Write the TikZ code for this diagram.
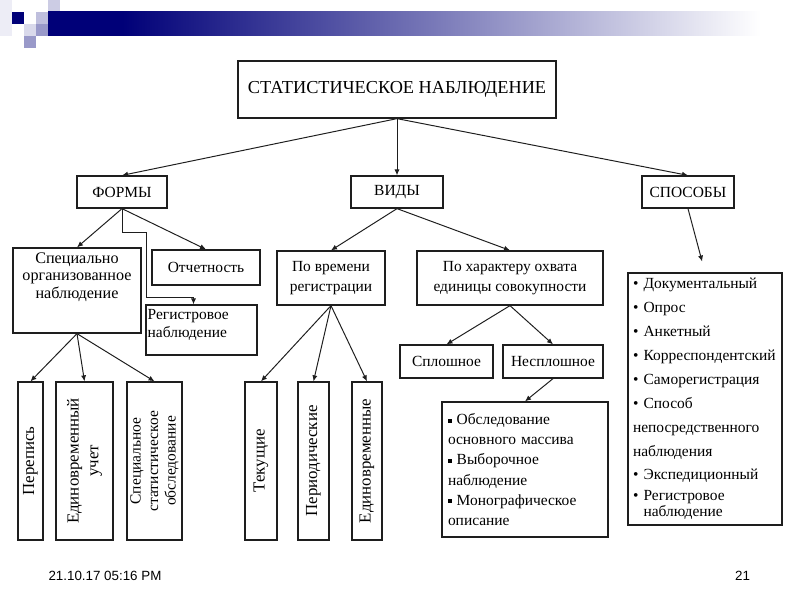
\documentclass[tikz,border=0pt]{standalone}
\usepackage{fontspec}
\setmainfont{Liberation Serif}
\setsansfont{Liberation Sans}
\usepackage{tikz}
\usetikzlibrary{positioning,arrows.meta}
\definecolor{snNavy}{RGB}{0,0,120}
\definecolor{snLine}{RGB}{30,30,30}
\pgfdeclarehorizontalshading{snBanner}{100bp}{color(0bp)=(snNavy); color(30bp)=(snNavy); color(50bp)=(snNavy!55); color(73bp)=(white); color(100bp)=(white)}
\newcommand{\sqbul}{\rule[0.3ex]{0.5ex}{0.5ex}}

\begin{document}
\begin{tikzpicture}[
  box/.style={draw=snLine, line width=0.9pt, fill=white, align=center,
              font=\fontsize{11}{14}\selectfont, inner sep=2pt},
  head/.style={box, minimum width=2.3cm, minimum height=0.8cm},
  rot/.style={box, rotate=90, minimum width=3.95cm,
              font=\fontsize{12}{14}\selectfont},
  txt/.style={inner sep=0pt, align=left, font=\fontsize{11}{12.5}\selectfont},
  arr/.style={-{Latex[length=1.5mm,width=1.3mm]}, line width=0.7pt, snLine}
]
\useasboundingbox (0,0) rectangle (20,15);
\fill[snNavy!7]  (0,15) rectangle (0.3,14.1);
\fill[snNavy]    (0.3,14.7) rectangle (0.6,14.4);
\fill[snNavy!25] (0.9,14.7) rectangle (1.2,14.4);
\fill[snNavy!20] (1.2,15) rectangle (1.5,14.7);
\fill[snNavy!15] (0.6,14.4) rectangle (0.9,14.1);
\fill[snNavy!40] (0.9,14.4) rectangle (1.2,14.1);
\fill[snNavy!40] (0.6,14.1) rectangle (0.9,13.8);
\shade[shading=snBanner] (1.2,14.7) rectangle (19.75,14.1);

\node[box, font=\fontsize{13}{15}\selectfont, minimum width=7.95cm,
      minimum height=1.425cm] (SN) at (9.925,12.7625) {СТАТИСТИЧЕСКОЕ НАБЛЮДЕНИЕ};
\node[head, minimum width=2.25cm] (FO) at (3.05,10.2) {ФОРМЫ};
\node[head] (VI) at (9.925,10.2) {ВИДЫ};
\node[head] (SP) at (17.2,10.2) {СПОСОБЫ};

\node[box, minimum width=3.2cm, minimum height=2.125cm] (SO) at (1.925,7.7375) {};
\node[txt, align=center, font=\fontsize{11.5}{12.5}\selectfont,
      below=0.12cm of SO.north] (SOt) {Специально\\организованное\\наблюдение};
\node[box, minimum width=2.7cm, minimum height=0.875cm] (OT) at (5.15,8.3125) {Отчетность};
\node[box, minimum width=2.775cm, minimum height=1.25cm] (RN) at (5.0375,6.75) {};
\node[txt, below right=0.12cm and 0.05cm of RN.north west] (RNt) {Регистровое\\наблюдение};

\node[rot, minimum height=0.625cm] (PE) at (0.7625,3.475) {Перепись};
\node[rot, minimum height=1.425cm] (EU) at (2.1125,3.475) {Единовременный\\учет};
\node[rot, minimum height=1.375cm, inner sep=1pt,
      font=\fontsize{11}{12.5}\selectfont] (SS) at (3.8625,3.475)
      {Специальное\\статистическое\\обследование};
\node[rot, minimum height=0.8cm] (TE) at (6.525,3.475) {Текущие};
\node[rot, minimum height=0.775cm] (PD) at (7.8375,3.475) {Периодические};
\node[rot, minimum height=0.75cm] (ED) at (9.175,3.475) {Единовременные};

\node[box, minimum width=2.7cm, minimum height=1.35cm] (PV) at (8.275,8.05) {По времени\\регистрации};
\node[box, minimum width=4.65cm, minimum height=1.35cm] (PH) at (12.75,8.05) {По характеру охвата\\единицы совокупности};
\node[box, minimum width=2.325cm, minimum height=0.825cm] (SL) at (11.1625,5.9625) {Сплошное};
\node[box, minimum width=2.5cm, minimum height=0.825cm] (NS) at (13.825,5.9625) {Несплошное};
\node[box, align=left, text width=3.85cm, inner xsep=0.15cm, minimum height=3.375cm,
      font=\fontsize{11}{14.3}\selectfont] (NL) at (13.125,3.2625)
      {\sqbul\ Обследование\\основного массива\\\sqbul\ Выборочное\\наблюдение\\\sqbul\ Монографическое\\описание};
\node[box, align=left, text width=3.6cm, inner xsep=0.125cm, minimum height=6.3cm,
      font=\fontsize{11}{17}\selectfont] (ML) at (17.625,5.025)
      {• Документальный\\• Опрос\\• Анкетный\\• Корреспондентский\\• Саморегистрация\\• Способ\\непосредственного\\наблюдения\\• Экспедиционный\\[-2pt]• Регистровое\\[-5.7pt]\phantom{• }наблюдение};

\node[font=\sffamily\fontsize{9.5}{11}\selectfont] (FT) at (2.625,0.6) {21.10.17 05:16 PM};
\node[font=\sffamily\fontsize{9.5}{11}\selectfont] (PG) at (18.5625,0.6) {21};

\foreach \t in {FO,VI,SP}
  \draw[arr] (SN.south) -- (\t.north);
\foreach \t in {SO,OT}
  \draw[arr] (FO.south) -- (\t.north);
\coordinate (RNe) at (3.65,7.575);
\draw[arr] (FO.south) -- ++(0,-0.6) -| (RNe) -| ([xshift=-0.2cm]RN.north);
\foreach \t in {PE,EU,SS}
  \draw[arr] (SO.south) -- (\t.east);
\foreach \t in {PV,PH}
  \draw[arr] (VI.south) -- (\t.north);
\foreach \t in {TE,PD,ED}
  \draw[arr] (PV.south) -- (\t.east);
\foreach \t in {SL,NS}
  \draw[arr] (PH.south) -- (\t.north);
\draw[arr] (NS.south) -- (NL.north);
\draw[arr, shorten >=0.28cm] (SP.south) -- (ML.north);
\end{tikzpicture}
\end{document}
